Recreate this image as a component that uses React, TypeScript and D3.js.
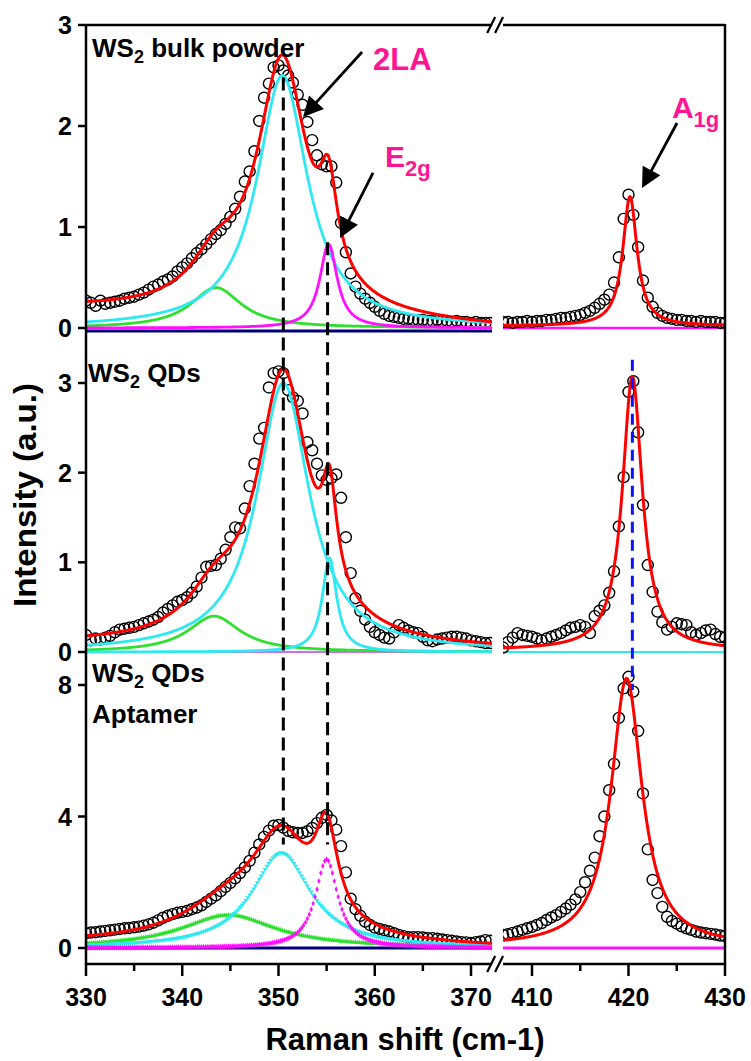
import React from "react";
import * as d3 from "d3";

// ---------- data (Raman spectra) ----------
const leftStart = 330;   // cm-1, first point of the low-shift window
const rightStart = 407;  // cm-1, first point of the A1g window
const stepCm = 0.5;

const bulkLeft = [
  0.27, 0.25, 0.22, 0.27, 0.24, 0.25, 0.26, 0.27, 0.29, 0.30,
  0.31, 0.33, 0.35, 0.38, 0.41, 0.43, 0.46, 0.48, 0.51, 0.56,
  0.60, 0.64, 0.69, 0.74, 0.78, 0.83, 0.88, 0.93, 0.97, 1.03,
  1.10, 1.18, 1.30, 1.45, 1.55, 1.75, 2.05, 2.28, 2.42, 2.58,
  2.60, 2.55, 2.50, 2.43, 2.31, 2.21, 2.04, 1.86, 1.71, 1.62,
  1.60, 1.60, 1.44, 1.04, 0.75, 0.54, 0.41, 0.34, 0.29, 0.25,
  0.21, 0.17, 0.14, 0.12, 0.11, 0.10, 0.09, 0.09, 0.08, 0.08,
  0.08, 0.07, 0.07, 0.08, 0.07, 0.07, 0.06, 0.07, 0.06, 0.06,
  0.05, 0.06, 0.05, 0.05, 0.05,
];
const bulkRight = [
  0.06, 0.06, 0.05, 0.06, 0.06, 0.07, 0.06, 0.07, 0.07, 0.08,
  0.08, 0.09, 0.10, 0.10, 0.11, 0.12, 0.13, 0.15, 0.17, 0.20,
  0.24, 0.28, 0.33, 0.45, 0.70, 1.08, 1.32, 1.12, 0.80, 0.47,
  0.30, 0.21, 0.15, 0.12, 0.10, 0.09, 0.08, 0.08, 0.07, 0.07,
  0.06, 0.07, 0.06, 0.06, 0.06, 0.05, 0.05,
];
const qdLeft = [
  0.19, 0.13, 0.15, 0.14, 0.16, 0.18, 0.22, 0.25, 0.26, 0.27,
  0.28, 0.30, 0.32, 0.34, 0.36, 0.39, 0.44, 0.48, 0.52, 0.56,
  0.58, 0.61, 0.66, 0.73, 0.83, 0.95, 0.96, 0.97, 1.04, 1.14,
  1.28, 1.39, 1.38, 1.60, 1.85, 2.10, 2.38, 2.50, 2.95, 3.11,
  3.13, 3.11, 2.92, 2.84, 2.80, 2.66, 2.34, 2.25, 2.10, 1.97,
  1.92, 1.94, 1.98, 1.72, 1.28, 0.88, 0.60, 0.46, 0.36, 0.28,
  0.22, 0.19, 0.16, 0.15, 0.22, 0.30, 0.27, 0.24, 0.22, 0.21,
  0.17, 0.13, 0.12, 0.14, 0.15, 0.16, 0.17, 0.17, 0.16, 0.15,
  0.13, 0.12, 0.11, 0.10, 0.10,
];
const qdRight = [
  0.05, 0.11, 0.16, 0.21, 0.19, 0.18, 0.17, 0.15, 0.13, 0.15,
  0.17, 0.19, 0.21, 0.24, 0.27, 0.28, 0.30, 0.28, 0.21, 0.40,
  0.46, 0.52, 0.66, 0.90, 1.40, 1.95, 2.90, 3.02, 2.45, 1.64,
  0.97, 0.67, 0.45, 0.33, 0.25, 0.28, 0.32, 0.31, 0.30, 0.22,
  0.19, 0.21, 0.24, 0.25, 0.20, 0.17, 0.16,
];
const aptLeft = [
  0.45, 0.47, 0.48, 0.50, 0.52, 0.54, 0.56, 0.58, 0.60, 0.61,
  0.63, 0.65, 0.68, 0.72, 0.77, 0.84, 0.92, 0.98, 1.03, 1.07,
  1.10, 1.13, 1.18, 1.23, 1.30, 1.40, 1.50, 1.60, 1.73, 1.86,
  1.98, 2.12, 2.28, 2.45, 2.65, 2.90, 3.15, 3.38, 3.57, 3.72,
  3.74, 3.66, 3.56, 3.52, 3.50, 3.50, 3.55, 3.65, 3.80, 3.96,
  4.05, 3.88, 3.60, 3.10, 2.30, 1.50, 1.18, 0.98, 0.80, 0.70,
  0.62, 0.58, 0.54, 0.50, 0.45, 0.40, 0.36, 0.33, 0.33, 0.33,
  0.32, 0.30, 0.30, 0.28, 0.26, 0.24, 0.22, 0.20, 0.18, 0.17,
  0.15, 0.18, 0.20, 0.24, 0.22,
];
const aptRight = [
  0.40, 0.42, 0.46, 0.50, 0.55, 0.60, 0.64, 0.70, 0.76, 0.85,
  0.93, 1.00, 1.10, 1.20, 1.32, 1.48, 1.70, 2.00, 2.35, 2.75,
  3.40, 4.00, 4.80, 5.60, 7.00, 7.90, 8.25, 7.80, 6.60, 4.70,
  3.00, 2.07, 1.67, 1.25, 0.95, 0.82, 0.74, 0.66, 0.60, 0.55,
  0.50, 0.47, 0.45, 0.43, 0.41, 0.38, 0.36,
];

// Lorentzian fit components: [centre (cm-1), height, half width]
const bulkGreen = [343.5, 0.4, 3.2];
const bulkCyan = [350.4, 2.5, 3.2];
const bulkMagenta = [355.2, 0.83, 1.1];
const bulkA1g = [420.15, 1.28, 0.9];
const bulkBase = [0.18, 0.0, 0.02]; // baseline at 330, at 372, right window

const qdGreen = [343.3, 0.4, 3.3];
const qdCyan = [350.5, 3.0, 3.3];
const qdE2g = [355.3, 1.05, 0.9];
const qdA1g = [420.4, 3.05, 1.25];
const qdBase = [0.08, 0.02, 0.02];

const aptGreen = [344.8, 1.0, 6.0];
const aptCyan = [350.3, 2.9, 3.7];
const aptMagenta = [355.0, 2.7, 1.4];
const aptA1g = [419.8, 8.15, 1.95];
const aptBase = [0.13, 0.0, 0.05];

const bulkTicks = [0, 1, 2, 3];
const qdTicks = [0, 1, 2, 3];
const aptTicks = [0, 4, 8];
const xMajorLeft = [330, 340, 350, 360, 370];
const xMinorLeft = [335, 345, 355, 365];
const xMajorRight = [410, 420, 430];
const xMinorRight = [415, 425];
const modeLines = [350.5, 355.1]; // 2LA and E2g positions
const a1gLine = 420.4;

// ---------- style ----------
const FONT = "'Liberation Sans', Arial, Helvetica, sans-serif";
const RED = "#ff0000";
const CYAN = "#2ee8f2";
const GREEN = "#2fe02f";
const MAGENTA = "#ff10ff";
const NAVY = "#00007a";
const PINK = "#ff1493";
const VIOLET = "#c870f5";

const lor = (x: number, p: number[]) => p[1] / (1 + ((x - p[0]) / p[2]) ** 2);

export default function App() {
  const xL = d3.scaleLinear().domain([330, 370]).range([86, 471]);
  const xR = d3.scaleLinear().domain([410, 430]).range([532, 725]);
  const leftEnd = 372.2;
  const leftPx = [xL(330), xL(leftEnd)];
  const rightPx = [xR(rightStart), xR(430)];
  const axisLeft = 86, axisRight = 725, axisTop = 25, axisBottom = 964;

  const panels = [
    {
      id: "bulk",
      y: d3.scaleLinear().domain([0, 3]).range([328, 25]),
      top: 25, bottom: 334,
      ticks: bulkTicks,
      left: bulkLeft, right: bulkRight,
      comps: [{ p: bulkGreen, c: GREEN }, { p: bulkCyan, c: CYAN }, { p: bulkMagenta, c: MAGENTA }],
      a1g: bulkA1g, base: bulkBase,
      dotted: false,
      zeroLeft: { v: -0.03, c: NAVY, w: 3 },
      zeroRight: { v: 0, c: MAGENTA, w: 2.5 },
    },
    {
      id: "qd",
      y: d3.scaleLinear().domain([0, 3]).range([652, 383]),
      top: 334, bottom: 656,
      ticks: qdTicks,
      left: qdLeft, right: qdRight,
      comps: [{ p: qdGreen, c: GREEN }, { p: qdCyan, c: CYAN }, { p: qdE2g, c: CYAN }],
      a1g: qdA1g, base: qdBase,
      dotted: false,
      zeroLeft: { v: 0, c: VIOLET, w: 2 },
      zeroRight: { v: 0, c: CYAN, w: 2 },
    },
    {
      id: "apt",
      y: d3.scaleLinear().domain([0, 8]).range([948, 685]),
      top: 656, bottom: 963,
      ticks: aptTicks,
      left: aptLeft, right: aptRight,
      comps: [{ p: aptGreen, c: GREEN }, { p: aptCyan, c: CYAN }, { p: aptMagenta, c: MAGENTA }],
      a1g: aptA1g, base: aptBase,
      dotted: true,
      zeroLeft: { v: 0, c: NAVY, w: 3 },
      zeroRight: { v: 0, c: MAGENTA, w: 3 },
    },
  ];

  const xsLeft = d3.range(330, leftEnd + 0.001, 0.05);
  const xsRight = d3.range(rightStart, 430.001, 0.05);

  const arrowHead = (x1: number, y1: number, x2: number, y2: number) => {
    const len = 20, hw = 10;
    const dx = x2 - x1, dy = y2 - y1;
    const d = Math.hypot(dx, dy);
    const ux = dx / d, uy = dy / d;
    const bx = x2 - ux * len, by = y2 - uy * len;
    return {
      line: [x1, y1, bx + ux * 2, by + uy * 2],
      head: `M${x2},${y2}L${bx - uy * hw},${by + ux * hw}L${bx + uy * hw},${by - ux * hw}Z`,
    };
  };

  const top = panels[0];
  const annots = [
    { tail: [358.68, 2.733], tip: [352.55, 2.089], scale: xL },
    { tail: [359.82, 1.535], tip: [356.39, 0.891], scale: xL },
    { tail: [425.03, 2.03], tip: [421.4, 1.386], scale: xR },
  ];

  return (
    <svg
      width={751}
      height={1061}
      style={{ position: "absolute", left: 0, top: 0, background: "#fff" }}
      fontFamily={FONT}
    >
      <defs>
        {panels.map((p) => (
          <React.Fragment key={p.id}>
            <clipPath id={`cl-${p.id}`}>
              <rect x={leftPx[0]} y={p.top} width={leftPx[1] - leftPx[0]} height={p.bottom - p.top} />
            </clipPath>
            <clipPath id={`cr-${p.id}`}>
              <rect x={rightPx[0]} y={p.top} width={rightPx[1] - rightPx[0]} height={p.bottom - p.top} />
            </clipPath>
          </React.Fragment>
        ))}
      </defs>

      {panels.map((p) => {
        const baseAt = (x: number) => p.base[0] + ((p.base[1] - p.base[0]) * (x - 330)) / 42;
        const fitL = (x: number) => p.comps.reduce((s, c) => s + lor(x, c.p), 0) + baseAt(x);
        const fitR = (x: number) => lor(x, p.a1g) + p.base[2];
        const lineL = d3.line<number>().x((x) => xL(x)).y((x) => p.y(fitL(x)));
        const lineR = d3.line<number>().x((x) => xR(x)).y((x) => p.y(fitR(x)));
        const sym = d3.symbol().size(10);
        return (
          <g key={p.id}>
            {/* left window */}
            <g clipPath={`url(#cl-${p.id})`}>
              <line x1={leftPx[0]} x2={leftPx[1]} y1={p.y(p.zeroLeft.v)} y2={p.y(p.zeroLeft.v)}
                stroke={p.zeroLeft.c} strokeWidth={p.zeroLeft.w} />
              {p.left.map((v, i) => (
                <circle key={i} cx={xL(leftStart + i * stepCm)} cy={p.y(v)} r={5.5}
                  fill="none" stroke="#000" strokeWidth={1.4} />
              ))}
              {p.comps.map((c, k) =>
                p.dotted ? (
                  <g key={k} fill={c.c}>
                    {d3.range(330, leftEnd, 0.2).map((x, j) => (
                      <path key={j}
                        d={sym.type(k === 2 ? d3.symbolDiamond : d3.symbolTriangle)() as string}
                        transform={`translate(${xL(x)},${p.y(lor(x, c.p))})${k === 1 ? " rotate(180)" : ""}`} />
                    ))}
                  </g>
                ) : (
                  <path key={k}
                    d={d3.line<number>().x((x) => xL(x)).y((x) => p.y(lor(x, c.p)))(xsLeft) as string}
                    fill="none" stroke={c.c} strokeWidth={2.8} />
                )
              )}
              <path d={lineL(xsLeft) as string} fill="none" stroke={RED} strokeWidth={3} />
            </g>
            {/* right window */}
            <g clipPath={`url(#cr-${p.id})`}>
              <line x1={rightPx[0]} x2={rightPx[1]} y1={p.y(p.zeroRight.v)} y2={p.y(p.zeroRight.v)}
                stroke={p.zeroRight.c} strokeWidth={p.zeroRight.w} />
              {p.right.map((v, i) => (
                <circle key={i} cx={xR(rightStart + i * stepCm)} cy={p.y(v)} r={5.5}
                  fill="none" stroke="#000" strokeWidth={1.4} />
              ))}
              <path d={lineR(xsRight) as string} fill="none" stroke={RED} strokeWidth={3} />
            </g>
            {/* y ticks */}
            {p.ticks.map((t) => (
              <g key={t}>
                <line x1={axisLeft - 8} x2={axisLeft} y1={p.y(t)} y2={p.y(t)} stroke="#000" strokeWidth={2.5} />
                <text x={axisLeft - 14} y={p.y(t)} dy="0.36em" textAnchor="end" fontSize={25} fontWeight="bold">
                  {t}
                </text>
              </g>
            ))}
          </g>
        );
      })}

      {/* vertical dashed guide lines */}
      {modeLines.map((m, i) => (
        <line key={i} x1={xL(m)} x2={xL(m)}
          y1={panels[0].y(i === 0 ? 2.48 : 0.85)} y2={panels[2].y(3.15)}
          stroke="#000" strokeWidth={3} strokeDasharray="13 7" />
      ))}
      <line x1={xR(a1gLine)} x2={xR(a1gLine)} y1={panels[1].y(3.26)} y2={panels[2].y(7.85)}
        stroke="#0a14ff" strokeWidth={3} strokeDasharray="11 7" />

      {/* frame */}
      <g stroke="#000" strokeWidth={2.5} fill="none">
        <line x1={axisLeft} x2={axisLeft} y1={axisTop - 1} y2={axisBottom + 1} />
        <line x1={axisRight} x2={axisRight} y1={axisTop - 1} y2={axisBottom + 1} />
        <line x1={axisLeft} x2={leftPx[1]} y1={axisTop} y2={axisTop} />
        <line x1={rightPx[0]} x2={axisRight} y1={axisTop} y2={axisTop} />
        <line x1={axisLeft} x2={leftPx[1]} y1={axisBottom} y2={axisBottom} />
        <line x1={rightPx[0]} x2={axisRight} y1={axisBottom} y2={axisBottom} />
      </g>
      {/* break marks */}
      {[axisTop, axisBottom].map((yy, i) => (
        <g key={i} stroke="#000" strokeWidth={2.2}>
          <line x1={leftPx[1] - 5} y1={yy + 8} x2={leftPx[1] + 3} y2={yy - 8} />
          <line x1={rightPx[0] - 8} y1={yy + 8} x2={rightPx[0]} y2={yy - 8} />
        </g>
      ))}

      {/* x ticks */}
      {xMajorLeft.map((t) => (
        <g key={t}>
          <line x1={xL(t)} x2={xL(t)} y1={axisBottom} y2={axisBottom + 12} stroke="#000" strokeWidth={2.5} />
          <text x={xL(t)} y={1006} textAnchor="middle" fontSize={25} fontWeight="bold">{t}</text>
        </g>
      ))}
      {xMinorLeft.map((t) => (
        <line key={t} x1={xL(t)} x2={xL(t)} y1={axisBottom} y2={axisBottom + 7} stroke="#000" strokeWidth={2.5} />
      ))}
      {xMajorRight.map((t) => (
        <g key={t}>
          <line x1={xR(t)} x2={xR(t)} y1={axisBottom} y2={axisBottom + 12} stroke="#000" strokeWidth={2.5} />
          <text x={xR(t)} y={1006} textAnchor="middle" fontSize={25} fontWeight="bold">{t}</text>
        </g>
      ))}
      {xMinorRight.map((t) => (
        <line key={t} x1={xR(t)} x2={xR(t)} y1={axisBottom} y2={axisBottom + 7} stroke="#000" strokeWidth={2.5} />
      ))}

      {/* axis titles */}
      <text x={405} y={1050} textAnchor="middle" fontSize={31} fontWeight="bold">Raman shift (cm-1)</text>
      <text transform="translate(36,495) rotate(-90)" textAnchor="middle" fontSize={31} fontWeight="bold"
        textLength={224} lengthAdjust="spacingAndGlyphs">Intensity (a.u.)</text>

      {/* panel labels */}
      <text x={92} y={57} fontSize={26} fontWeight="bold">
        WS<tspan fontSize={18} dy={6}>2</tspan><tspan dy={-6}> bulk powder</tspan>
      </text>
      <text x={88} y={382} fontSize={26} fontWeight="bold">
        WS<tspan fontSize={18} dy={6}>2</tspan><tspan dy={-6}> QDs</tspan>
      </text>
      <text x={92} y={682} fontSize={26} fontWeight="bold">
        WS<tspan fontSize={18} dy={6}>2</tspan><tspan dy={-6}> QDs</tspan>
      </text>
      <text x={92} y={723} fontSize={26} fontWeight="bold">Aptamer</text>

      {/* annotations */}
      <text x={xL(359.82)} y={top.y(2.554)} fontSize={31} fontWeight="bold" fill={PINK}>2LA</text>
      <text x={xL(361.06)} y={top.y(1.594)} fontSize={30} fontWeight="bold" fill={PINK}>
        E<tspan fontSize={22} dy={9}>2g</tspan>
      </text>
      <text x={xR(424.5)} y={top.y(2.079)} fontSize={30} fontWeight="bold" fill={PINK}>
        A<tspan fontSize={22} dy={9}>1g</tspan>
      </text>
      {annots.map((a, i) => {
        const h = arrowHead(a.scale(a.tail[0]), top.y(a.tail[1]), a.scale(a.tip[0]), top.y(a.tip[1]));
        return (
          <g key={i}>
            <line x1={h.line[0]} y1={h.line[1]} x2={h.line[2]} y2={h.line[3]} stroke="#000" strokeWidth={2.8} />
            <path d={h.head} fill="#000" />
          </g>
        );
      })}
    </svg>
  );
}
